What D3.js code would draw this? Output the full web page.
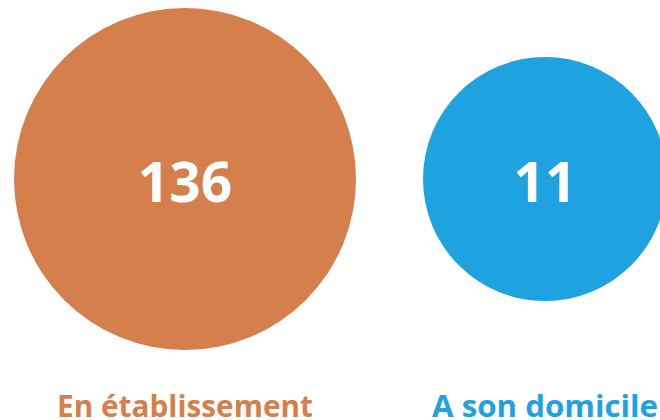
<!DOCTYPE html>
<html>
<head>
<meta charset="utf-8">
<script src="https://cdn.jsdelivr.net/npm/d3@7"></script>
<style>
  body { margin: 0; background: #fff; }
  text { font-family: "Open Sans", sans-serif; font-weight: bold; }
</style>
</head>
<body>
<div id="chart"></div>
<script>
var width = 660,
    height = 420;

// data
var categories = ["En établissement", "A son domicile"];
var values = [136, 11];
var colors = ["#d57f4c", "#1fa2e0"];
var labelWidths = [256, 226];

var svg = d3.select("#chart").append("svg")
  .attr("width", width)
  .attr("height", height);

var x = d3.scalePoint()
  .domain(categories)
  .range([185, 545]);

var r = d3.scaleLinear()
  .domain(d3.extent(values))
  .range([122, 171]);

var cy = 179;

var data = categories.map(function(c, i) {
  return {name: c, value: values[i], color: colors[i], lw: labelWidths[i]};
});

var node = svg.selectAll("g.bubble")
  .data(data)
  .enter()
  .append("g")
  .attr("class", "bubble")
  .attr("transform", function(d) { return "translate(" + x(d.name) + ",0)"; });

node.append("circle")
  .attr("cy", cy)
  .attr("r", function(d) { return r(d.value); })
  .attr("fill", function(d) { return d.color; });

node.append("text")
  .attr("y", cy + 23)
  .attr("text-anchor", "middle")
  .style("font-size", "55px")
  .attr("fill", "#fff")
  .text(function(d) { return d.value; });

node.append("text")
  .attr("y", 417)
  .attr("text-anchor", "middle")
  .style("font-size", "30px")
  .attr("textLength", function(d) { return d.lw; })
  .attr("lengthAdjust", "spacingAndGlyphs")
  .attr("fill", function(d) { return d.color; })
  .text(function(d) { return d.name; });
</script>
</body>
</html>
